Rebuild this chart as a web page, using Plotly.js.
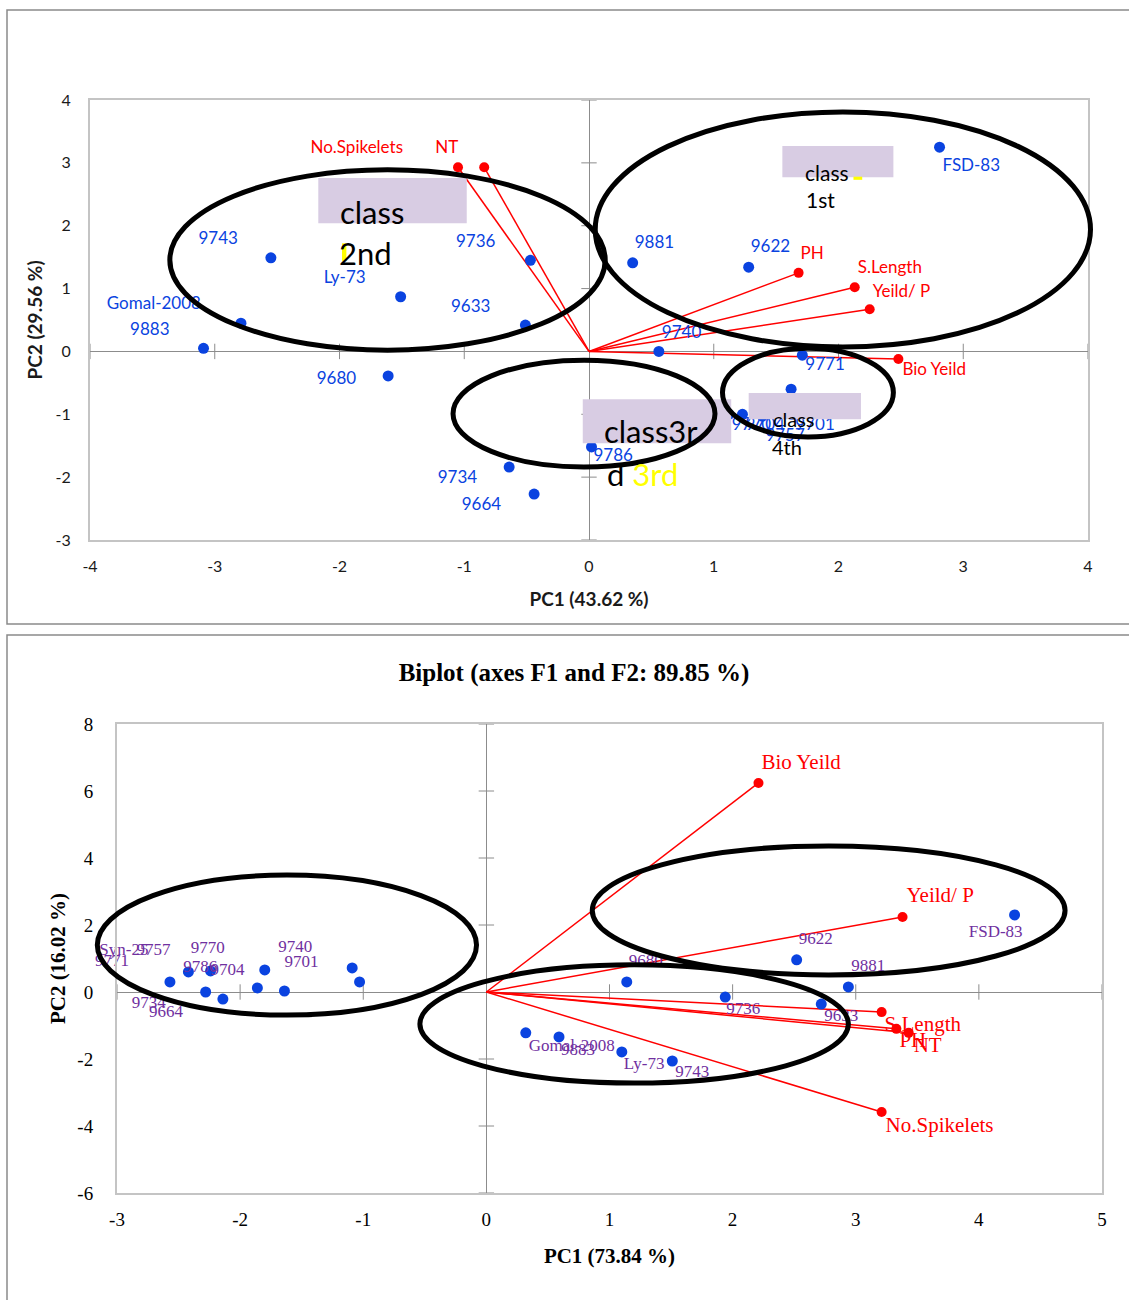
<!DOCTYPE html>
<html><head><meta charset="utf-8">
<script src="https://cdn.plot.ly/plotly-3.0.1.min.js"></script>
<style>html,body{margin:0;padding:0;background:#fff}</style>
</head><body><div id="chart" style="width:1129px;height:1300px"></div>
<script>
// ---------- Top biplot: PC1 (43.62 %) vs PC2 (29.56 %) ----------
const topGenotypes = ['FSD-83','9881','9622','9743','9736','Ly-73','9633','Gomal-2008','9883','9680','9740','9771','9734','9664','9786','9770','9704','9701','9757','Syn-25'];
const topPC1 = [2.81, 0.35, 1.28, -2.55, -0.47, -1.51, -0.51, -2.79, -3.09, -1.61, 0.56, 1.71, -0.64, -0.44, 0.02, 1.12, 1.23, 1.63, 1.39, 1.62];
const topPC2 = [3.25, 1.41, 1.34, 1.49, 1.45, 0.87, 0.42, 0.45, 0.05, -0.39, 0.00, -0.06, -1.84, -2.27, -1.52, -1.00, -1.00, -1.00, -1.03, -0.60];
const topTraits = ['No.Spikelets','NT','PH','S.Length','Yeild/ P','Bio Yeild'];
const topTraitPC1 = [-1.05, -0.84, 1.68, 2.13, 2.25, 2.48];
const topTraitPC2 = [2.93, 2.93, 1.25, 1.02, 0.67, -0.12];
const topXTicks = [-4,-3,-2,-1,0,1,2,3,4];
const topYTicks = [-3,-2,-1,0,1,2,3,4];

// ---------- Bottom biplot: PC1 (73.84 %) vs PC2 (16.02 %) ----------
const botTitle = 'Biplot (axes F1 and F2: 89.85 %)';
const botGenotypes = ['FSD-83','9622','9881','9680','9736','9633','Gomal-2008','9883','Ly-73','9743','Syn-25','9771','9757','9734','9664','9786','9770','9704','9740','9701'];
const botPC1 = [4.29, 2.52, 2.94, 1.14, 1.94, 2.72, 0.32, 0.59, 1.10, 1.51, -2.42, -2.57, -2.24, -2.28, -2.14, -1.86, -1.80, -1.64, -1.09, -1.03];
const botPC2 = [2.30, 0.96, 0.15, 0.30, -0.15, -0.36, -1.22, -1.34, -1.79, -2.06, 0.60, 0.30, 0.63, 0.00, -0.21, 0.12, 0.66, 0.03, 0.72, 0.30];
const botTraits = ['Bio Yeild','Yeild/ P','S.Length','PH','NT','No.Spikelets'];
const botTraitPC1 = [2.21, 3.38, 3.21, 3.33, 3.43, 3.21];
const botTraitPC2 = [6.24, 2.24, -0.60, -1.10, -1.22, -3.58];
const botXTicks = [-3,-2,-1,0,1,2,3,4,5];
const botYTicks = [-6,-4,-2,0,2,4,6,8];

// ---------- styling / placement (not data) ----------
const W = 1129, H = 1300;
const SUB = {
  top: {xd:[90/W, 1088/W], yd:[1-540/H, 1-100/H], xr:[-4,4], yr:[-3,4], xa:'x', ya:'y'},
  bot: {xd:[117/W, 1102/W], yd:[1-1193/H, 1-724/H], xr:[-3,5], yr:[-6,8], xa:'x2', ya:'y2'}
};
function ppuX(s){return (s.xd[1]-s.xd[0])*W/(s.xr[1]-s.xr[0]);}
function ppuY(s){return (s.yd[1]-s.yd[0])*H/(s.yr[1]-s.yr[0]);}
function paperX(s,x){return s.xd[0]+(x-s.xr[0])/(s.xr[1]-s.xr[0])*(s.xd[1]-s.xd[0]);}
function paperY(s,y){return s.yd[0]+(y-s.yr[0])/(s.yr[1]-s.yr[0])*(s.yd[1]-s.yd[0]);}

// label offsets: [side, dx px, dy px (down positive)]
const topLabelStyle = {
  'FSD-83':['R',3,20],'9881':['R',2,-19],'9622':['R',2,-19],'9743':['L',-33,-18],'9736':['L',-35,-18],
  'Ly-73':['L',-35,-18],'9633':['L',-35,-17],'Gomal-2008':['L',-40,-18],'9883':['L',-34,-18],'9680':['L',-32,4],
  '9740':['R',3,-18],'9771':['R',3,11],'9734':['L',-32,12],'9664':['L',-33,12],'9786':['R',2,10],
  '9770':['R',3,11],'9704':['R',3,11],'9701':['R',3,11],'9757':['R',3,21],'Syn-25':['R',3,16],
  'No.Spikelets':['L',-55,-19],'NT':['L',-26,-19],'PH':['R',2,-18],'S.Length':['R',3,-19],'Yeild/ P':['R',3,-17],'Bio Yeild':['R',4,12]
};
const botLabelStyle = {
  'FSD-83':['L',8,18],'9622':['R',2,-20],'9881':['R',3,-20],'9680':['R',2,-20],'9736':['R',1,13],'9633':['R',3,13],
  'Gomal-2008':['R',3,14],'9883':['R',2,14],'Ly-73':['R',2,13],'9743':['R',3,12],
  'Syn-25':['L',-40,-21],'9771':['L',-41,-20],'9757':['L',-40,-20],'9734':['L',-40,12],'9664':['L',-40,14],
  '9786':['L',-40,-20],'9770':['L',-40,-21],'9704':['L',-40,-20],'9740':['L',-40,-20],'9701':['L',-41,-19],
  'Bio Yeild':['R',3,-19],'Yeild/ P':['R',4,-20],'S.Length':['R',3,14],'PH':['R',3,13],'NT':['R',5,14],'No.Spikelets':['R',4,15]
};

const BLUE = '#0a43e0', RED = '#ff0000', PURPLE = '#7030a0', LAV = '#d8cce3';
const SANS = 'Lato, "Open Sans", sans-serif', SERIF = '"Liberation Serif", "Times New Roman", serif';

function labelTrace(s, names, xs, ys, styleMap, font, color){
  const groups = {L:{x:[],y:[],t:[]}, R:{x:[],y:[],t:[]}};
  names.forEach((n,i)=>{
    const st = styleMap[n];
    const g = groups[st[0]];
    g.x.push(xs[i] + st[1]/ppuX(s));
    g.y.push(ys[i] - st[2]/ppuY(s));
    g.t.push(n);
  });
  return ['L','R'].map(k=>({
    type:'scatter', mode:'text', xaxis:s.xa, yaxis:s.ya,
    x:groups[k].x, y:groups[k].y, text:groups[k].t,
    textposition: k==='L' ? 'middle left' : 'middle right',
    textfont:{family:font.family, size:font.size, color:color},
    cliponaxis:false, hoverinfo:'skip', showlegend:false
  }));
}
function vectorTraces(s, xs, ys, markerSize){
  const tr = [];
  xs.forEach((x,i)=>{
    tr.push({type:'scatter', mode:'lines', xaxis:s.xa, yaxis:s.ya, x:[0,x], y:[0,ys[i]],
      line:{color:RED, width:1.5}, hoverinfo:'skip', showlegend:false, cliponaxis:false});
  });
  tr.push({type:'scatter', mode:'markers', xaxis:s.xa, yaxis:s.ya, x:xs, y:ys,
    marker:{color:RED, size:markerSize}, hoverinfo:'skip', showlegend:false, cliponaxis:false});
  return tr;
}
function zeroTicks(s, xt, yt){
  const xs = xt.filter(v=>v!==0), ys = yt.filter(v=>v!==0);
  return [
    {type:'scatter', mode:'markers', xaxis:s.xa, yaxis:s.ya, x:xs, y:xs.map(()=>0),
     marker:{symbol:'line-ns', size:11, line:{color:'#8c8c8c', width:1}}, hoverinfo:'skip', showlegend:false},
    {type:'scatter', mode:'markers', xaxis:s.xa, yaxis:s.ya, x:ys.map(()=>0), y:ys,
     marker:{symbol:'line-ew', size:11, line:{color:'#8c8c8c', width:1}}, hoverinfo:'skip', showlegend:false}
  ];
}

const T = SUB.top, B = SUB.bot;
const traces = [].concat(
  zeroTicks(T, topXTicks, topYTicks),
  zeroTicks(B, botXTicks, botYTicks),
  vectorTraces(T, topTraitPC1, topTraitPC2, 10),
  vectorTraces(B, botTraitPC1, botTraitPC2, 10),
  [{type:'scatter', mode:'markers', xaxis:'x', yaxis:'y', x:topPC1, y:topPC2,
    marker:{color:BLUE, size:11}, hoverinfo:'skip', showlegend:false, cliponaxis:false},
   {type:'scatter', mode:'markers', xaxis:'x2', yaxis:'y2', x:botPC1, y:botPC2,
    marker:{color:BLUE, size:11}, hoverinfo:'skip', showlegend:false, cliponaxis:false}],
  labelTrace(T, topGenotypes, topPC1, topPC2, topLabelStyle, {family:SANS, size:17}, BLUE),
  labelTrace(T, topTraits, topTraitPC1, topTraitPC2, topLabelStyle, {family:SANS, size:17}, RED),
  labelTrace(B, botGenotypes, botPC1, botPC2, botLabelStyle, {family:SERIF, size:17}, PURPLE),
  labelTrace(B, botTraits, botTraitPC1, botTraitPC2, botLabelStyle, {family:SERIF, size:21}, RED)
);

// decoration (class boxes and ellipses drawn on the original figure)
const topBoxes = [[-2.17,-0.98,2.04,2.76],[1.55,2.44,2.77,3.27],[-0.05,1.14,-1.46,-0.76],[1.28,2.18,-1.08,-0.66]];
const topEllipses = [[-3.36,0.13,0.02,2.89],[0.05,4.02,0.07,3.81],[-1.09,1.01,-1.84,-0.14],[1.07,2.44,-1.36,0.05]];
const botEllipses = [[-3.16,-0.08,-0.69,3.49],[0.86,4.70,0.51,4.36],[-0.54,2.94,-2.72,0.81]];
const topHighlights = [[-1.98,-1.945,1.44,1.72],[2.12,2.19,2.73,2.78]];

function rectShape(s,b,style){return Object.assign({type:'rect', xref:'paper', yref:'paper',
  x0:paperX(s,b[0]), x1:paperX(s,b[1]), y0:paperY(s,b[2]), y1:paperY(s,b[3]), layer:'above'}, style);}
const shapes = [];
// panel frames
shapes.push({type:'rect', xref:'paper', yref:'paper', x0:7/W, x1:1.01, y0:1-624/H, y1:1-10/H,
  line:{color:'#8a8a8a', width:1.5}, fillcolor:'rgba(0,0,0,0)', layer:'below'});
shapes.push({type:'rect', xref:'paper', yref:'paper', x0:7/W, x1:1.01, y0:-0.01, y1:1-635/H,
  line:{color:'#8a8a8a', width:1.5}, fillcolor:'rgba(0,0,0,0)', layer:'below'});
topBoxes.forEach(b=>shapes.push(rectShape(T,b,{fillcolor:LAV, line:{width:0}})));
topHighlights.forEach(b=>shapes.push(rectShape(T,b,{fillcolor:'#ffff00', line:{width:0}})));
topEllipses.forEach(e=>shapes.push(Object.assign(rectShape(T,e,{line:{color:'#000', width:5}, fillcolor:'rgba(0,0,0,0)'}),{type:'circle'})));
botEllipses.forEach(e=>shapes.push(Object.assign(rectShape(B,e,{line:{color:'#000', width:5}, fillcolor:'rgba(0,0,0,0)'}),{type:'circle'})));

const classText = [
  {text:'class', x:-1.74, y:2.22, size:31, xanchor:'center'},
  {text:'2nd', x:-1.79, y:1.57, size:31, xanchor:'center'},
  {text:'class', x:1.715, y:2.85, size:21, xanchor:'left'},
  {text:'1st', x:1.72, y:2.41, size:21, xanchor:'left'},
  {text:'class3r', x:0.50, y:-1.27, size:31, xanchor:'center'},
  {text:'d <span style="color:#ffff00">3rd</span>', x:0.13, y:-1.95, size:31, xanchor:'left'},
  {text:'class', x:1.46, y:-1.08, size:20, xanchor:'left'},
  {text:'4th', x:1.45, y:-1.52, size:20, xanchor:'left'}
];
const annotations = classText.map(c=>({xref:'x', yref:'y', x:c.x, y:c.y, text:c.text, showarrow:false,
  xanchor:c.xanchor, yanchor:'middle', font:{family:SANS, size:c.size, color:'#000'}}));

function axis(s, isX, ticks, titleText, titleFont, tickFont, standoff, tls){
  return {domain: isX ? s.xd : s.yd, range: isX ? s.xr : s.yr, anchor: isX ? s.ya : s.xa,
    tickvals: ticks, ticktext: ticks.map(String), ticks:'', showgrid:false,
    zeroline:true, zerolinecolor:'#8c8c8c', zerolinewidth:1,
    showline:true, mirror:true, linecolor:'#c4c4c4', linewidth:2,
    tickfont:tickFont, ticklabelstandoff:tls, fixedrange:true,
    title:{text:titleText, font:titleFont, standoff:standoff}};
}

const layout = {
  width:W, height:H, margin:{l:0,r:0,t:0,b:0}, paper_bgcolor:'#fff', plot_bgcolor:'#fff',
  showlegend:false, hovermode:false,
  title:{text:'<b>'+botTitle+'</b>', font:{family:SERIF, size:25, color:'#000'},
    xref:'paper', yref:'paper', x:574/W, xanchor:'center', y:1-672/H, yanchor:'middle'},
  xaxis: axis(T, true, topXTicks, '<b>PC1 (43.62 %)</b>', {family:SANS, size:19, color:'#1a1a1a'}, {family:SANS, size:16, color:'#1a1a1a'}, 18, 11),
  yaxis: axis(T, false, topYTicks, '<b>PC2 (29.56 %)</b>', {family:SANS, size:19, color:'#1a1a1a'}, {family:SANS, size:16, color:'#1a1a1a'}, 8, 14),
  xaxis2: axis(B, true, botXTicks, '<b>PC1 (73.84 %)</b>', {family:SERIF, size:21, color:'#000'}, {family:SERIF, size:19, color:'#000'}, 20, 8),
  yaxis2: axis(B, false, botYTicks, '<b>PC2 (16.02 %)</b>', {family:SERIF, size:21, color:'#000'}, {family:SERIF, size:19, color:'#000'}, 6, 18),
  shapes: shapes, annotations: annotations
};

Plotly.newPlot('chart', traces, layout, {staticPlot:true, displayModeBar:false});
</script></body></html>
